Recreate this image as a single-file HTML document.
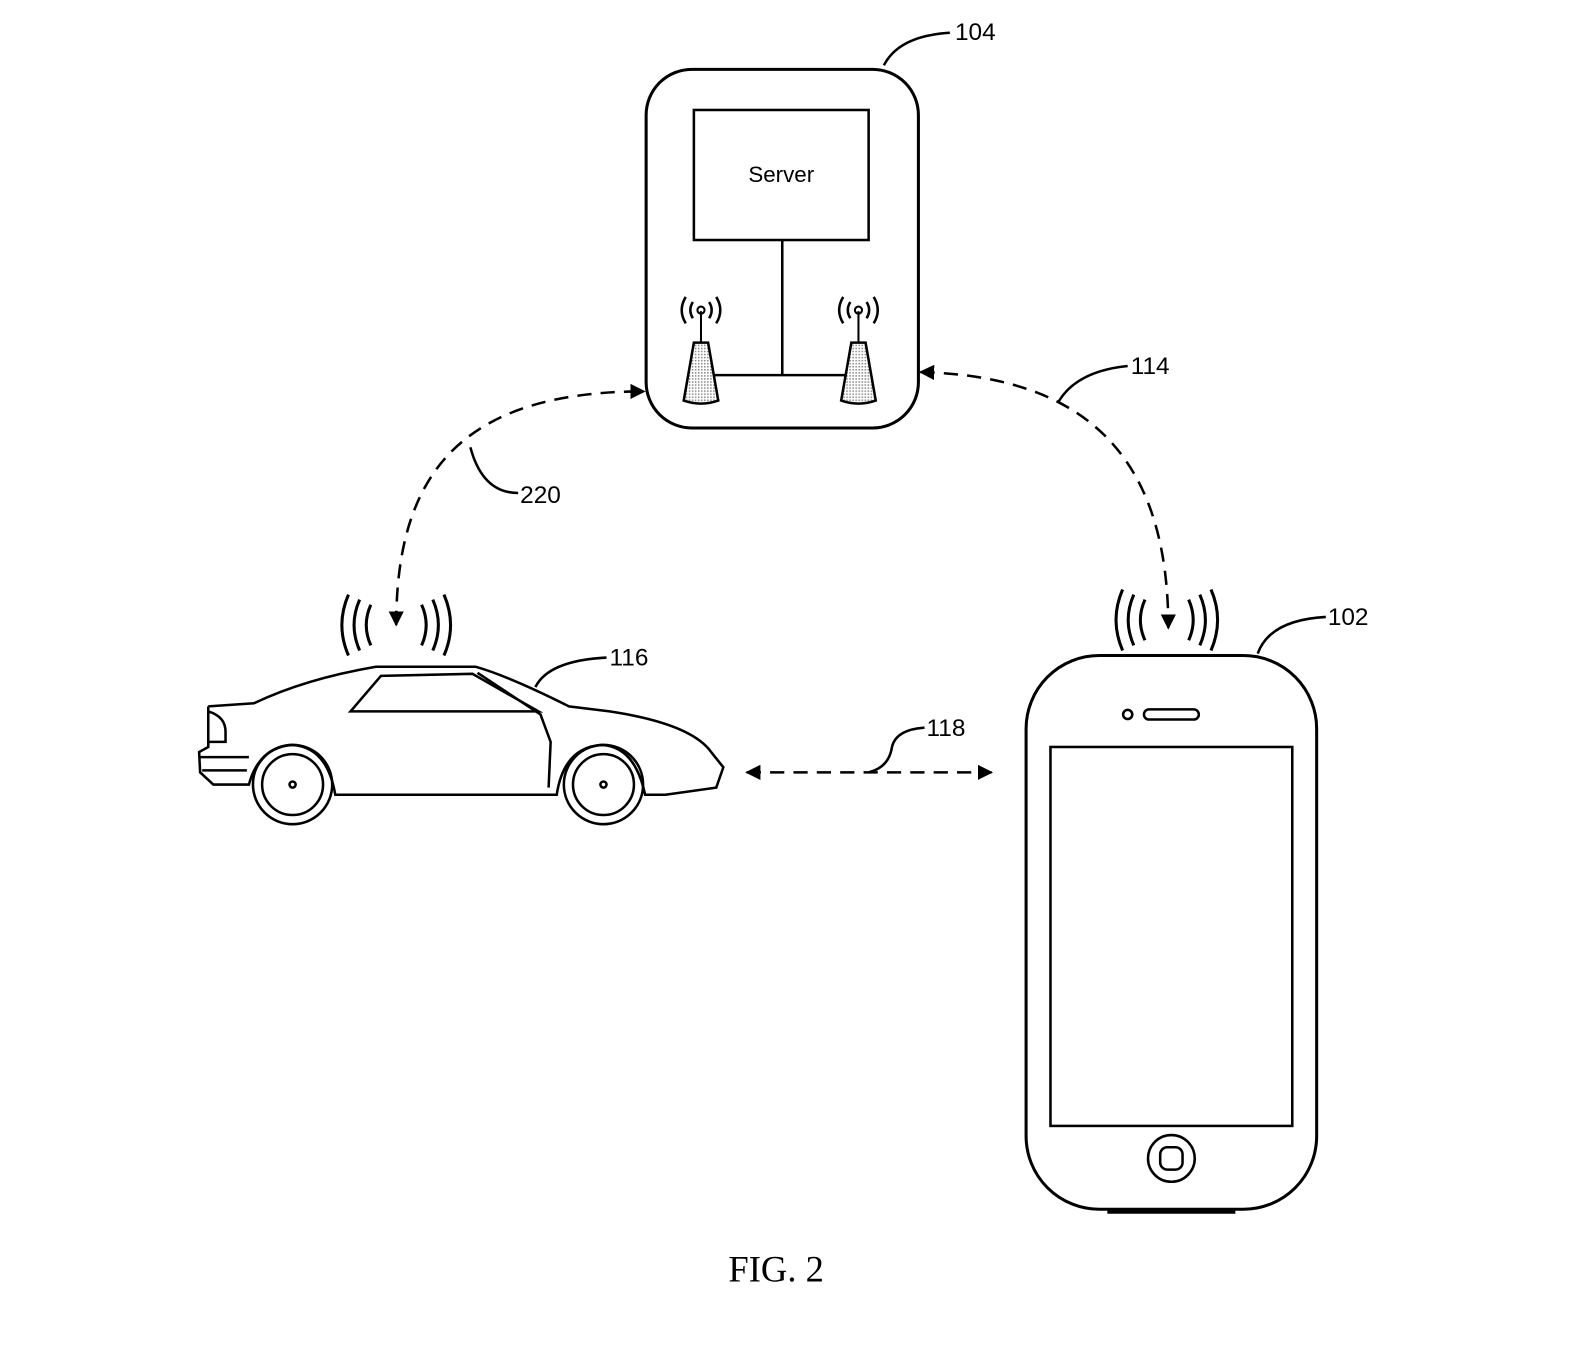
<!DOCTYPE html>
<html><head><meta charset="utf-8"><style>html,body{margin:0;padding:0;background:#fff}svg{display:block}</style></head>
<body>
<svg width="1594" height="1370" viewBox="0 0 1569 1348" xmlns="http://www.w3.org/2000/svg" font-family="Liberation Sans, Arial, sans-serif">
<defs>
<marker id="ah" viewBox="0 0 10 10" refX="9" refY="5" markerWidth="6" markerHeight="6" orient="auto-start-reverse"><path d="M0,0 L10,5 L0,10 z" fill="#000"/></marker>
<pattern id="dots" width="3" height="3" patternUnits="userSpaceOnUse"><rect width="3" height="3" fill="#fff"/><rect width="1.5" height="1.5" fill="#888"/></pattern>
</defs>
<g fill="none" stroke="#000" stroke-width="3">
<!-- server -->
<rect x="636" y="68" width="268" height="353" rx="45"/>
<rect x="683" y="108" width="172" height="128" stroke-width="2.5"/>
<line x1="770" y1="236" x2="770" y2="369" stroke-width="2.5"/>
<line x1="700" y1="369" x2="838" y2="369" stroke-width="2.5"/>
<g id="ant">
<path d="M683,337 L697,337 L707,394 Q690,400 673,394 Z" fill="url(#dots)" stroke-width="2.5"/>
<line x1="690" y1="306" x2="690" y2="337" stroke-width="2"/>
<circle cx="690" cy="305" r="3.5" stroke-width="2"/>
<path d="M682,297 Q677,305 682,313 M698,297 Q703,305 698,313 M675,292 Q667,305 675,318 M705,292 Q713,305 705,318" stroke-width="2.5"/>
</g>
<use href="#ant" x="155"/>
<!-- phone -->
<rect x="1010" y="645" width="286" height="545" rx="72"/>
<rect x="1034" y="735" width="238" height="373" stroke-width="2.5"/>
<rect x="1126" y="698" width="54" height="10" rx="5" stroke-width="2.5"/>
<circle cx="1110" cy="703" r="4.5" stroke-width="2.5"/>
<circle cx="1153" cy="1140" r="23" stroke-width="2.5"/>
<rect x="1142" y="1129" width="22" height="22" rx="7" stroke-width="2.5"/>
<line x1="1090" y1="1192" x2="1216" y2="1192" stroke-width="5"/>
<!-- phone waves -->
<path d="M1127,590 Q1118,610 1127,630 M1116,585 Q1105,610 1116,635 M1105,580 Q1092,610 1105,640 M1170,590 Q1179,610 1170,630 M1181,585 Q1192,610 1181,635 M1192,580 Q1205,610 1192,640" stroke-width="3"/>
<!-- car waves -->
<path d="M365,595 Q356,615 365,635 M354,590 Q343,615 354,640 M343,585 Q330,615 343,645 M415,595 Q424,615 415,635 M426,590 Q437,615 426,640 M437,585 Q450,615 437,645" stroke-width="3"/>
<!-- car -->
<g stroke-width="2.5">
<path d="M205,695 L250,692 Q300,668 370,656 L468,656 Q500,665 560,695 L600,700 Q680,712 700,740 L712,755 L705,775 L655,782 L635,782 Q625,735 593,733 Q555,735 548,782 L330,782 Q322,735 288,733 Q255,735 245,772 L210,772 L197,760 L196,740 L205,735 L205,695"/>
<path d="M345,700 L375,665 L465,663 L530,700 Z"/>
<path d="M470,662 L532,703 L542,730 L540,775"/>
<path d="M205,700 Q222,705 222,720 L222,730 L205,730"/>
<path d="M197,745 L245,745 M199,758 L243,758"/>
<circle cx="288" cy="772" r="39"/><circle cx="288" cy="772" r="30"/><circle cx="288" cy="772" r="3"/>
<circle cx="594" cy="772" r="39"/><circle cx="594" cy="772" r="30"/><circle cx="594" cy="772" r="3"/>
</g>
<!-- connectors -->
<path d="M390,615 C390,470 450,385 634,385" stroke-dasharray="14,9" marker-start="url(#ah)" marker-end="url(#ah)" stroke-width="2.5"/>
<path d="M906,366 C1070,370 1150,450 1150,618" stroke-dasharray="14,9" marker-start="url(#ah)" marker-end="url(#ah)" stroke-width="2.5"/>
<line x1="735" y1="760" x2="976" y2="760" stroke-dasharray="14,9" marker-start="url(#ah)" marker-end="url(#ah)" stroke-width="2.5"/>
<!-- leaders -->
<g stroke-width="2.5">
<path d="M870,64 Q885,35 935,32"/>
<path d="M1042,395 Q1060,365 1110,360"/>
<path d="M463,440 Q475,485 510,485"/>
<path d="M527,676 Q540,650 597,647"/>
<path d="M855,760 Q875,755 878,735 Q882,718 910,716"/>
<path d="M1238,643 Q1250,610 1305,607"/>
</g>
</g>
<g font-size="24" fill="#000">
<text x="940" y="39">104</text>
<text x="1113" y="368">114</text>
<text x="512" y="495">220</text>
<text x="600" y="655">116</text>
<text x="912" y="724">118</text>
<text x="1307" y="615">102</text>
<text x="769" y="179" text-anchor="middle" font-size="22">Server</text>
</g>
<text x="764" y="1261" text-anchor="middle" font-family="Liberation Serif, serif" font-size="36">FIG. 2</text>
</svg>
</body></html>
